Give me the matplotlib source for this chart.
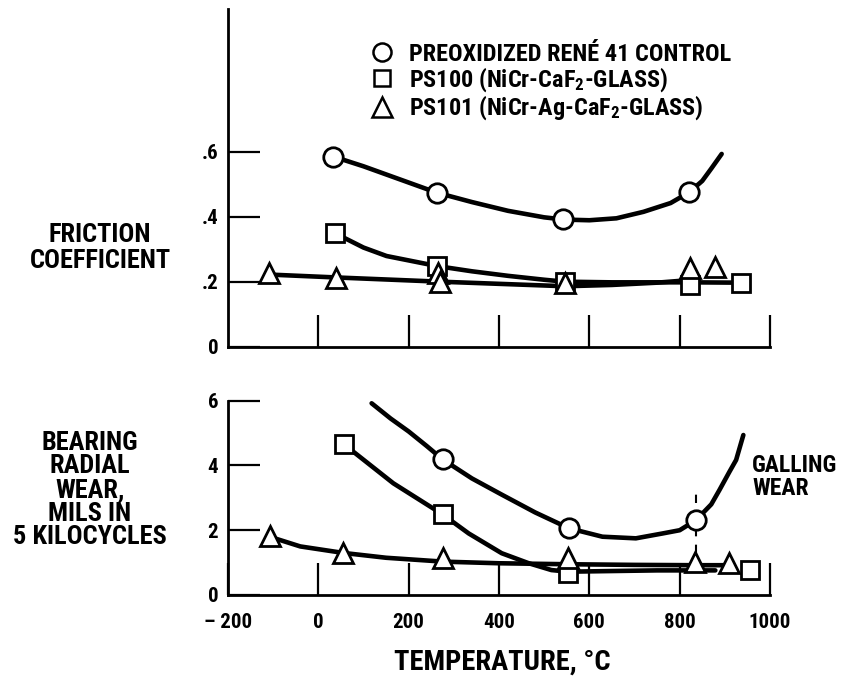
import matplotlib
matplotlib.use("Agg")
import matplotlib.pyplot as plt
from matplotlib import font_manager
from matplotlib.lines import Line2D

# ---- data ----
# friction coefficient, markers
fr_rene_t = [33, 262, 542, 821]
fr_rene_f = [0.585, 0.472, 0.392, 0.475]
fr_ps100_t = [37, 263, 546, 823, 935]
fr_ps100_f = [0.349, 0.248, 0.200, 0.190, 0.195]
fr_ps101_t = [-110, 40, 265, 270, 546, 823, 878]
fr_ps101_f = [0.228, 0.210, 0.226, 0.200, 0.195, 0.241, 0.246]

# friction coefficient, faired curves
fr_rene_fit_t = [33, 100, 180, 262, 340, 420, 500, 545, 600, 660, 720, 780, 821, 850, 870, 893]
fr_rene_fit_f = [0.585, 0.555, 0.515, 0.474, 0.445, 0.418, 0.398, 0.391, 0.389, 0.395,
                 0.415, 0.442, 0.475, 0.51, 0.548, 0.593]
fr_ps100_fit_t = [37, 100, 151, 263, 340, 420, 500, 546, 650, 750, 823, 935]
fr_ps100_fit_f = [0.349, 0.305, 0.279, 0.248, 0.232, 0.218, 0.206, 0.200, 0.198, 0.198, 0.198, 0.197]
fr_ps101_fit_t = [-110, 40, 270, 546, 650, 750, 823]
fr_ps101_fit_f = [0.222, 0.213, 0.200, 0.186, 0.190, 0.197, 0.205]

# bearing wear, markers
wr_rene_t = [275, 555, 836]
wr_rene_w = [4.19, 2.06, 2.31]
wr_ps100_t = [57, 275, 553, 956]
wr_ps100_w = [4.65, 2.49, 0.69, 0.77]
wr_ps101_t = [-108, 55, 277, 553, 833, 909]
wr_ps101_w = [1.83, 1.31, 1.13, 1.13, 1.03, 1.00]

# bearing wear, faired curves
wr_rene_fit_t = [118, 160, 200, 240, 275, 340, 406, 480, 555, 629, 703, 762, 800, 836,
                 870, 888, 910, 925, 941]
wr_rene_fit_w = [5.92, 5.45, 5.05, 4.6, 4.19, 3.6, 3.1, 2.55, 2.06, 1.8, 1.75, 1.9, 2.0, 2.31,
                 2.8, 3.24, 3.8, 4.17, 4.94]
wr_ps100_fit_t = [57, 166, 275, 333, 406, 466, 516, 553, 650, 750, 879]
wr_ps100_fit_w = [4.65, 3.45, 2.49, 1.9, 1.29, 0.98, 0.77, 0.72, 0.74, 0.76, 0.76]
wr_ps101_fit_t = [-108, -40, 55, 150, 277, 400, 553, 700, 833, 900]
wr_ps101_fit_w = [1.8, 1.5, 1.3, 1.15, 1.03, 0.98, 0.95, 0.93, 0.92, 0.92]

galling_t = 836
galling_w = [1.3, 3.34]

x_ticks = [0, 200, 400, 600, 800, 1000]
x_labels = ["\u2013 200", "0", "200", "400", "600", "800", "1000"]
fr_ticks = [0, 0.2, 0.4, 0.6]
fr_labels = ["0", ".2", ".4", ".6"]
wr_ticks = [0, 2, 4, 6]
wr_labels = ["0", "2", "4", "6"]

# condensed bold face like the original lettering, if it is there
names = {f.name for f in font_manager.fontManager.ttflist}
if "Roboto Condensed" in names:
    FONT, k = "Roboto Condensed", 1.0
else:
    FONT, k = "Liberation Sans", 0.85
plt.rcParams["font.family"] = [FONT, "DejaVu Sans"]
plt.rcParams["font.weight"] = "bold"
plt.rcParams["mathtext.fontset"] = "custom"
plt.rcParams["mathtext.rm"] = FONT + ":bold"
plt.rcParams["mathtext.it"] = FONT + ":bold"
plt.rcParams["mathtext.bf"] = FONT + ":bold"

fig = plt.figure(figsize=(8.42, 6.79), dpi=100)
W, H = 842, 679
left, right = 228 / W, 770 / W
ax1 = fig.add_axes([left, (H - 346.7) / H, right - left, (346.7 - 9.3) / H])
ax2 = fig.add_axes([left, (H - 595) / H, right - left, (595 - 400.7) / H])

LW = 3.3
mk = dict(color="black", markerfacecolor="white", markeredgecolor="black",
          markeredgewidth=2.0, linestyle="none", zorder=5, clip_on=False)

# top panel
ax1.plot(fr_rene_fit_t, fr_rene_fit_f, color="black", lw=LW, solid_capstyle="round")
ax1.plot(fr_ps100_fit_t, fr_ps100_fit_f, color="black", lw=LW, solid_capstyle="round")
ax1.plot(fr_ps101_fit_t, fr_ps101_fit_f, color="black", lw=LW, solid_capstyle="round")
ax1.plot(fr_rene_t, fr_rene_f, marker="o", markersize=14, **mk)
ax1.plot(fr_ps100_t, fr_ps100_f, marker="s", markersize=13, **mk)
ax1.plot(fr_ps101_t, fr_ps101_f, marker="^", markersize=15, **mk)

# bottom panel
ax2.plot(wr_rene_fit_t, wr_rene_fit_w, color="black", lw=LW, solid_capstyle="round")
ax2.plot(wr_ps100_fit_t, wr_ps100_fit_w, color="black", lw=LW, solid_capstyle="round")
ax2.plot(wr_ps101_fit_t, wr_ps101_fit_w, color="black", lw=LW, solid_capstyle="round")
ax2.vlines(galling_t, galling_w[0], galling_w[1], colors="black", lw=1.5,
           linestyles=(0, (4, 4)), zorder=3)
ax2.plot(wr_rene_t, wr_rene_w, marker="o", markersize=14, **mk)
ax2.plot(wr_ps100_t, wr_ps100_w, marker="s", markersize=13, **mk)
ax2.plot(wr_ps101_t, wr_ps101_w, marker="^", markersize=15, **mk)

for ax in (ax1, ax2):
    ax.set_xlim(-200, 1000)
    for s in ("top", "right"):
        ax.spines[s].set_visible(False)
    for s in ("left", "bottom"):
        ax.spines[s].set_linewidth(2)
    ax.tick_params(direction="in", length=23, width=1.6, labelsize=15 * k, pad=7)

ax1.set_ylim(0, 1.038)
ax1.set_xticks(x_ticks)
ax1.tick_params(axis="x", labelbottom=False)
ax1.set_yticks(fr_ticks)
ax1.set_yticklabels(fr_labels)

ax2.set_ylim(0, 6)
ax2.set_xticks([-200] + x_ticks)
ax2.set_xticklabels(x_labels)
ax2.tick_params(axis="x", pad=13)
ax2.set_yticks(wr_ticks)
ax2.set_yticklabels(wr_labels)

handles = [
    Line2D([], [], marker="o", markersize=13, markerfacecolor="white",
           markeredgecolor="black", markeredgewidth=1.8, linestyle="none"),
    Line2D([], [], marker="s", markersize=12, markerfacecolor="white",
           markeredgecolor="black", markeredgewidth=1.8, linestyle="none"),
    Line2D([], [], marker="^", markersize=14, markerfacecolor="white",
           markeredgecolor="black", markeredgewidth=1.8, linestyle="none"),
]
labels = ["PREOXIDIZED REN\u00c9 41 CONTROL",
          "PS100 (NiCr-CaF$_2$-GLASS)",
          "PS101 (NiCr-Ag-CaF$_2$-GLASS)"]
fig.legend(handles, labels, loc="upper left", bbox_to_anchor=(370 / W, 1 - 43 / H),
           frameon=False, fontsize=17.5 * k, handlelength=1.0, handletextpad=0.6,
           labelspacing=-0.02, borderpad=0, borderaxespad=0)

fig.text(100 / W, 1 - 248 / H, "FRICTION\nCOEFFICIENT", ha="center", va="center",
         fontsize=19 * k, linespacing=1.08)
fig.text(90 / W, 1 - 490 / H, "BEARING\nRADIAL\nWEAR,\nMILS IN\n5 KILOCYCLES",
         ha="center", va="center", fontsize=19 * k, linespacing=0.98)
fig.text(752 / W, 1 - 477 / H, "GALLING\nWEAR", ha="left", va="center",
         fontsize=17 * k, linespacing=1.05)
fig.text(502 / W, 1 - 662 / H, "TEMPERATURE, \u00b0C", ha="center", va="center",
         fontsize=20.5 * k)

fig.savefig("out.png", dpi=100)
